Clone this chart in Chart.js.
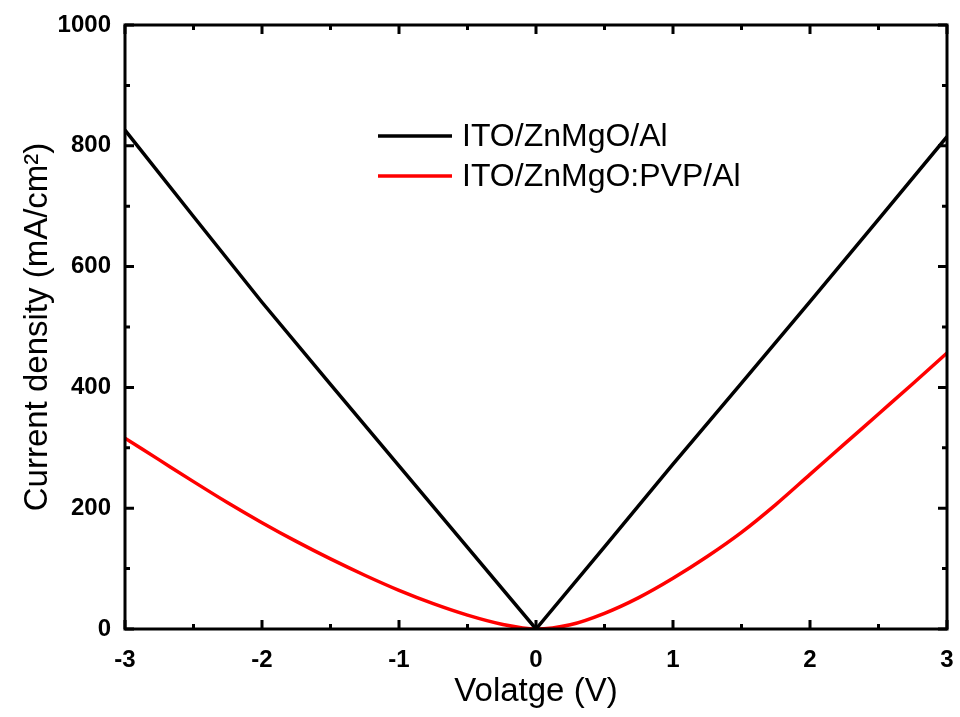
<!DOCTYPE html>
<html>
<head>
<meta charset="utf-8">
<script src="https://cdn.jsdelivr.net/npm/chart.js@4/dist/chart.umd.min.js"></script>
<style>
  html, body { margin: 0; padding: 0; background: #fff; }
  #wrap { width: 960px; height: 717px; }
</style>
</head>
<body>
<div id="wrap"><canvas id="chart1" width="960" height="717"></canvas></div>
<script>
// voltage points (V)
const voltage_black = [-3, -2.5, -2, -1.5, -1, -0.5, 0, 0.5, 1, 1.5, 2, 2.5, 3];
const current_black = [826, 683, 541, 405, 270, 135, 0, 136, 273, 407, 542, 678, 815];

const voltage_red = [-3, -2.75, -2.5, -2.25, -2, -1.75, -1.5, -1.25, -1, -0.75, -0.5, -0.25, 0,
                     0.25, 0.5, 0.75, 1, 1.25, 1.5, 1.75, 2, 2.25, 2.5, 2.75, 3];
const current_red = [316, 280, 244, 209, 176, 145, 116, 89, 64, 42, 23, 8, 0,
                     7, 26, 52, 84, 120, 160, 206, 256, 306, 356, 406, 457];

const labels = ['ITO/ZnMgO/Al', 'ITO/ZnMgO:PVP/Al'];
const x_ticks = [-3, -2, -1, 0, 1, 2, 3];
const y_ticks = [0, 200, 400, 600, 800, 1000];

const FONT = '"Liberation Sans", Arial, sans-serif';
const toPoints = (xs, ys) => xs.map((x, i) => ({x: x, y: ys[i]}));

// frame, inward ticks on all sides, legend inside the plot
const framePlugin = {
    id: 'frame',
    afterDraw(chart) {
        const ctx = chart.ctx;
        const a = chart.chartArea;
        const xs = chart.scales.x, ys = chart.scales.y;
        ctx.save();
        ctx.strokeStyle = '#000';
        ctx.lineWidth = 3;
        ctx.lineCap = 'butt';
        ctx.beginPath();
        for (let v = -3; v <= 3; v += 0.5) {
            const p = xs.getPixelForValue(v);
            const len = Number.isInteger(v) ? 9 : 5;
            ctx.moveTo(p, a.bottom); ctx.lineTo(p, a.bottom - len);
            ctx.moveTo(p, a.top); ctx.lineTo(p, a.top + len);
        }
        for (let v = 0; v <= 1000; v += 100) {
            const p = ys.getPixelForValue(v);
            const len = v % 200 === 0 ? 9 : 5;
            ctx.moveTo(a.left, p); ctx.lineTo(a.left + len, p);
            ctx.moveTo(a.right, p); ctx.lineTo(a.right - len, p);
        }
        ctx.stroke();
        ctx.strokeRect(a.left, a.top, a.right - a.left, a.bottom - a.top);

        // legend
        ctx.font = '32px ' + FONT;
        ctx.textBaseline = 'middle';
        ctx.fillStyle = '#000';
        chart.data.datasets.forEach((ds, i) => {
            const y = 136 + i * 40;
            ctx.strokeStyle = ds.borderColor;
            ctx.lineWidth = 3.5;
            ctx.beginPath();
            ctx.moveTo(378, y); ctx.lineTo(452, y);
            ctx.stroke();
            ctx.fillText(ds.label, 462, y + 1);
        });
        ctx.restore();
    }
};

const line_chart = document.getElementById('chart1').getContext('2d');
new Chart(line_chart, {
    type: 'line',
    data: {
        datasets: [
            {label: labels[0], data: toPoints(voltage_black, current_black),
             borderColor: '#000000', borderWidth: 3.5, pointRadius: 0, tension: 0},
            {label: labels[1], data: toPoints(voltage_red, current_red),
             borderColor: '#ff0000', borderWidth: 3.5, pointRadius: 0,
             cubicInterpolationMode: 'monotone'}
        ]
    },
    options: {
        responsive: false,
        animation: false,
        layout: {padding: {top: 25, right: 13, left: 0, bottom: 0}},
        plugins: {legend: {display: false}, tooltip: {enabled: false}},
        scales: {
            x: {
                type: 'linear', min: -3, max: 3,
                grid: {display: false, drawTicks: false},
                border: {display: false},
                afterBuildTicks: s => { s.ticks = x_ticks.map(v => ({value: v})); },
                afterFit: s => { s.height = 88; s.paddingLeft = 0; s.paddingRight = 0; },
                ticks: {color: '#000', padding: 17, callback: v => String(v),
                        font: {family: FONT, size: 24, weight: 'bold'}},
                title: {display: true, text: 'Volatge (V)', color: '#000', padding: {top: 0, bottom: 5},
                        font: {family: FONT, size: 33}}
            },
            y: {
                min: 0, max: 1000,
                grid: {display: false, drawTicks: false},
                border: {display: false},
                afterBuildTicks: s => { s.ticks = y_ticks.map(v => ({value: v})); },
                afterFit: s => { s.width = 125; s.paddingTop = 0; s.paddingBottom = 0; },
                ticks: {color: '#000', padding: 14, callback: v => String(v),
                        font: {family: FONT, size: 24, weight: 'bold'}},
                title: {display: true, text: 'Current density (mA/cm²)', color: '#000', padding: {top: 18, bottom: 0},
                        font: {family: FONT, size: 33}}
            }
        }
    },
    plugins: [framePlugin]
});
</script>
</body>
</html>
